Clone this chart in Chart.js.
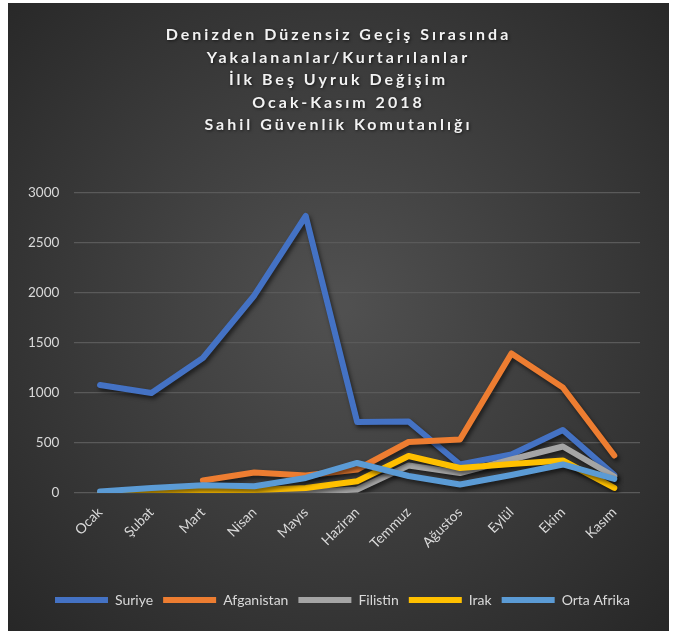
<!DOCTYPE html>
<html>
<head>
<meta charset="utf-8">
<script src="https://cdn.jsdelivr.net/npm/chart.js@4.4.1/dist/chart.umd.min.js"></script>
<style>
    html, body { margin: 0; padding: 0; background: #ffffff; }
    #wrap { position: absolute; left: 8px; top: 3px; width: 661px; height: 628px; }
</style>
</head>
<body>
<div id="wrap"><canvas id="chart" width="661" height="628"></canvas></div>
<script>
// data
var months = ['Ocak', 'Şubat', 'Mart', 'Nisan', 'Mayıs', 'Haziran', 'Temmuz', 'Ağustos', 'Eylül', 'Ekim', 'Kasım'];
var suriye = [1080, 1000, 1350, 1975, 2770, 710, 715, 285, 385, 630, 180];
var afganistan = [null, null, 125, 205, 175, 235, 510, 535, 1395, 1055, 375];
var filistin = [null, null, null, 0, 10, 35, 275, 200, 335, 465, 165];
var irak = [0, 10, 27, 30, 50, 117, 370, 250, 290, 325, 50];
var ortaAfrika = [15, 50, 77, 67, 150, 300, 170, 85, 180, 285, 140];
var yMin = 0, yMax = 3000, yStep = 500;

var titleLines = [
    'Denizden Düzensiz Geçiş Sırasında',
    'Yakalananlar/Kurtarılanlar',
    'İlk Beş Uyruk Değişim',
    'Ocak-Kasım 2018',
    'Sahil Güvenlik Komutanlığı'
];

function makeSet(label, data, color, order) {
    return {
        label: label,
        data: data,
        borderColor: color,
        backgroundColor: color,
        borderWidth: 6,
        borderCapStyle: 'round',
        borderJoinStyle: 'round',
        pointRadius: 0,
        pointHoverRadius: 0,
        tension: 0,
        spanGaps: false,
        order: order
    };
}

var dataSets = [
    makeSet('Suriye', suriye, '#4472C4', 5),
    makeSet('Afganistan', afganistan, '#ED7D31', 4),
    makeSet('Filistin', filistin, '#A5A5A5', 3),
    makeSet('Irak', irak, '#FFC000', 2),
    makeSet('Orta Afrika', ortaAfrika, '#5B9BD5', 1)
];

var bgPlugin = {
    id: 'darkBg',
    beforeDraw: function (chart) {
        var ctx = chart.ctx, w = chart.width, h = chart.height;
        var g = ctx.createRadialGradient(w * 0.5, h * 0.48, 10, w * 0.5, h * 0.48, Math.max(w, h) * 0.72);
        g.addColorStop(0, '#505050');
        g.addColorStop(1, '#262626');
        ctx.save();
        ctx.fillStyle = g;
        ctx.fillRect(0, 0, w, h);
        ctx.restore();
    }
};

var shadowPlugin = {
    id: 'lineShadow',
    beforeDatasetDraw: function (chart) {
        var ctx = chart.ctx;
        ctx.save();
        ctx.shadowColor = 'rgba(0,0,0,0.55)';
        ctx.shadowBlur = 4;
        ctx.shadowOffsetX = 2;
        ctx.shadowOffsetY = 3;
    },
    afterDatasetDraw: function (chart) {
        chart.ctx.restore();
    }
};

// spaced-out title letters, and title/legend centred on the whole box
var boxTweaks = {
    id: 'boxTweaks',
    afterInit: function (chart) {
        var tb = chart.titleBlock;
        if (tb) {
            var origTitle = tb.draw;
            tb.draw = function (area) {
                var ctx = chart.ctx;
                ctx.save();
                ctx.translate(12, 0);
                ctx.letterSpacing = '3px';
                ctx.shadowColor = 'rgba(0,0,0,0.6)';
                ctx.shadowBlur = 3;
                ctx.shadowOffsetX = 1;
                ctx.shadowOffsetY = 1;
                origTitle.call(tb, area);
                ctx.restore();
            };
        }
        var lg = chart.legend;
        if (lg) {
            var origLegend = lg.draw;
            lg.draw = function (area) {
                var ctx = chart.ctx;
                ctx.save();
                ctx.translate(16, 0);
                origLegend.call(lg, area);
                ctx.restore();
            };
        }
    }
};

var ctx = document.getElementById('chart').getContext('2d');

var chart = new Chart(ctx, {
    type: 'line',
    data: {
        labels: months,
        datasets: dataSets
    },
    options: {
        responsive: false,
        animation: false,
        layout: {
            padding: { top: 21, left: 5, right: 29, bottom: 14 }
        },
        scales: {
            x: {
                offset: true,
                grid: { display: false },
                border: { display: false },
                ticks: {
                    color: '#d9d9d9',
                    font: { family: 'Lato', size: 14 },
                    minRotation: 45,
                    maxRotation: 45,
                    padding: 3
                },
                afterFit: function (scale) {
                    scale.height += 28;
                }
            },
            y: {
                min: yMin,
                max: yMax,
                border: { display: false },
                grid: {
                    color: '#5a5a5a',
                    lineWidth: 1.2,
                    drawTicks: false
                },
                ticks: {
                    stepSize: yStep,
                    color: '#d9d9d9',
                    font: { family: 'Lato', size: 13.5 },
                    padding: 15,
                    callback: function (v) { return String(v); }
                }
            }
        },
        plugins: {
            tooltip: { enabled: false },
            title: {
                display: true,
                text: titleLines,
                color: '#f2f2f2',
                font: { family: 'Lato', size: 16, weight: 'bold', lineHeight: 1.4 },
                padding: { top: 0, bottom: 57 }
            },
            legend: {
                display: true,
                position: 'bottom',
                labels: {
                    usePointStyle: true,
                    pointStyle: 'line',
                    pointStyleWidth: 53,
                    color: '#d9d9d9',
                    font: { family: 'Lato', size: 14 },
                    padding: 10,
                    sort: function (a, b) { return a.datasetIndex - b.datasetIndex; }
                }
            }
        }
    },
    plugins: [bgPlugin, shadowPlugin, boxTweaks]
});
</script>
</body>
</html>
